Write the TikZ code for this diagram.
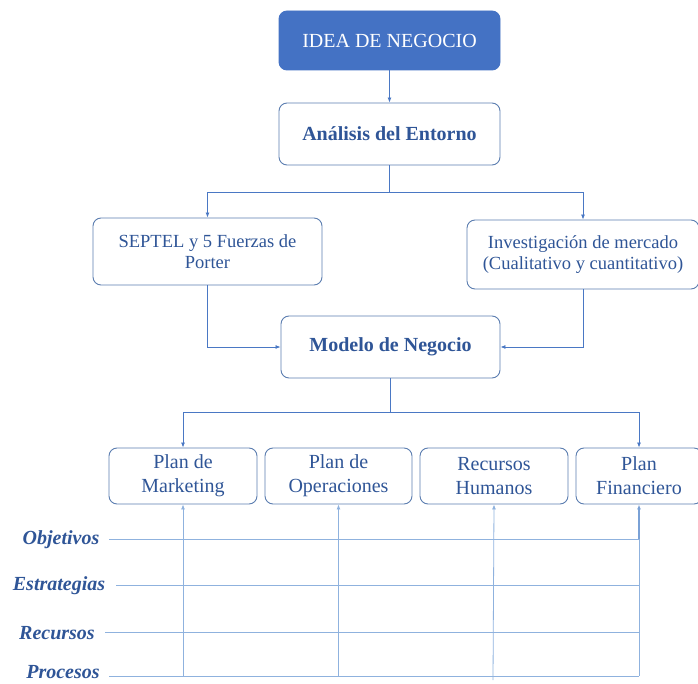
\documentclass[tikz,border=0pt]{standalone}
\usepackage{fontspec}
\setmainfont{Liberation Serif}
\usetikzlibrary{arrows.meta}
\definecolor{ideablue}{HTML}{4472C4}
\definecolor{boxline}{HTML}{5B7DB0}
\definecolor{txtblue}{HTML}{2F5597}
\definecolor{lineblue}{HTML}{8FB2DE}
\definecolor{arrblue}{HTML}{4A78C4}
\tikzset{
  x=1pt, y=-1pt,
  rbox/.style={draw=boxline, line width=0.9pt, rounded corners=8pt, fill=white, align=center, text=txtblue, inner sep=0pt},
  conn/.style={draw=arrblue, line width=0.8pt},
  lconn/.style={draw=lineblue, line width=0.8pt},
  tip/.style={-{Latex[length=5pt,width=4pt]}},
  rowlabel/.style={text=txtblue, font=\fontsize{20}{22}\selectfont\bfseries\itshape, inner sep=0pt}
}
\begin{document}
\begin{tikzpicture}
\useasboundingbox (0,0) rectangle (698,684);
% top boxes
\node[rbox, fill=ideablue, draw=ideablue, text=white, minimum width=221pt, minimum height=59pt, font=\fontsize{20}{22}\selectfont] (idea) at (389.5,40.5) {IDEA DE NEGOCIO};
\node[rbox, minimum width=221pt, minimum height=62pt, font=\fontsize{20}{22}\selectfont\bfseries] (anal) at (389.5,134) {Análisis del Entorno};
\node[rbox, minimum width=229pt, minimum height=67pt, font=\fontsize{18.5}{21}\selectfont] (septel) at (207.5,251.5) {SEPTEL y 5 Fuerzas de\\Porter};
\node[rbox, minimum width=232pt, minimum height=69pt, font=\fontsize{18.5}{21}\selectfont] (inv) at (583,254.5) {Investigación de mercado\\(Cualitativo y cuantitativo)};
\node[rbox, minimum width=219pt, minimum height=62pt, font=\fontsize{20}{22}\selectfont\bfseries] (modelo) at (390.5,347) {Modelo de Negocio};
% plan boxes
\node[rbox, minimum width=148pt, minimum height=56pt, font=\fontsize{20}{24}\selectfont] (mkt) at (183,476) {Plan de\\Marketing};
\node[rbox, minimum width=147pt, minimum height=56pt, font=\fontsize{20}{24}\selectfont] (ope) at (338.5,476) {Plan de\\Operaciones};
\node[rbox, minimum width=148pt, minimum height=56pt, font=\fontsize{20}{24}\selectfont] (rh) at (494,476) {Recursos\\Humanos};
\node[rbox, minimum width=126pt, minimum height=56pt, font=\fontsize{20}{24}\selectfont] (fin) at (639,476) {Plan\\Financiero};
% connectors top
\draw[conn, tip] (idea.south) -- (anal.north);
\coordinate (j1) at (389.5,192);
\draw[conn] (anal.south) -- (j1);
\draw[conn, tip] (j1) -| (septel.north);
\draw[conn, tip] (j1) -| (inv.north);
\draw[conn, tip] (septel.south) |- (modelo.west);
\draw[conn, tip] (inv.south) |- (modelo.east);
\coordinate (j2) at (390.5,412);
\draw[conn] (modelo.south) -- (j2);
\draw[conn, tip] (j2) -| (mkt.north);
\draw[conn, tip] (j2) -| (fin.north);
% row labels
\node[rowlabel] (obj) at (61,540) {Objetivos};
\node[rowlabel] (est) at (59,586) {Estrategias};
\node[rowlabel] (rec) at (57,633) {Recursos};
\node[rowlabel] (pro) at (63,672) {Procesos};
\coordinate (oe) at (639,539);
\coordinate (ee) at (639,585);
\coordinate (re) at (639,632);
\coordinate (pe) at (639,676);
\draw[lconn] (109,539) -- (oe);
\draw[lconn] (116,585) -- (ee);
\draw[lconn] (105,632) -- (re);
\draw[lconn] (109,676) -- (pe);
% vertical arrows to plan boxes
\coordinate (m0) at (183,676);
\coordinate (o0) at (338.5,676);
\coordinate (r0) at (493,680);
\draw[lconn, tip] (m0) -- (mkt.south);
\draw[lconn, tip] (o0) -- (ope.south);
\draw[lconn, tip] (r0) -- (rh.south);
\draw[lconn] (pe) -- (oe);
\draw[conn, tip, draw=lineblue!70!arrblue, line width=1.1pt] (oe) -- (fin.south);
\end{tikzpicture}
\end{document}
